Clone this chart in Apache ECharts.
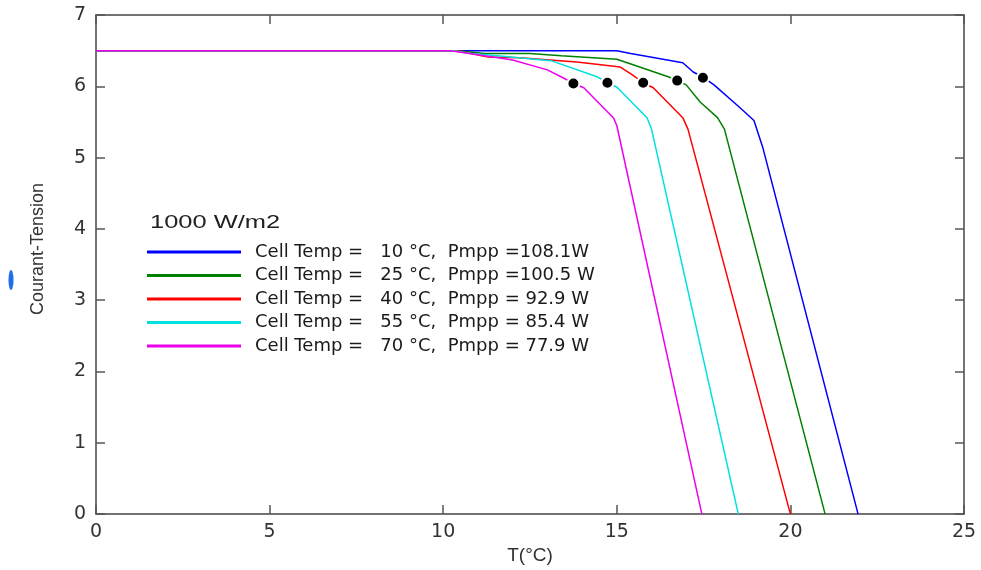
<!DOCTYPE html>
<html>
<head>
<meta charset="utf-8">
<title>Courant-Tension</title>
<script src="https://cdn.jsdelivr.net/npm/echarts@6/dist/echarts.min.js"></script>
<style>
  html, body { margin: 0; padding: 0; background: #fff; }
  #chartBox { width: 981px; height: 570px; }
</style>
</head>
<body>
<div id="chartBox"></div>
<script>
// legend texts
const seriesNames = [
  'Cell Temp =   10 °C,  Pmpp =108.1W',
  'Cell Temp =   25 °C,  Pmpp =100.5 W',
  'Cell Temp =   40 °C,  Pmpp = 92.9 W',
  'Cell Temp =   55 °C,  Pmpp = 85.4 W',
  'Cell Temp =   70 °C,  Pmpp = 77.9 W'
]
const colors = ['#0000ff', '#008000', '#ff0000', '#00e0e0', '#ee00ee']

// curves
const x10 = [0, 10, 15.0, 15.4, 16.9, 17.2, 17.48, 17.8, 18.55, 18.95, 19.2, 21.95]
const y10 = [6.5, 6.5, 6.5, 6.46, 6.33, 6.2, 6.13, 6.02, 5.7, 5.52, 5.15, 0]

const x25 = [0, 10.4, 11.2, 12.5, 13.4, 15.0, 15.3, 16.5, 16.74, 17.0, 17.4, 17.9, 18.1, 21.0]
const y25 = [6.5, 6.5, 6.46, 6.46, 6.43, 6.38, 6.33, 6.13, 6.08, 6.02, 5.78, 5.56, 5.4, 0]

const x40 = [0, 10.4, 11.3, 12.2, 13.85, 15.1, 15.45, 15.76, 16.05, 16.9, 17.05, 20.0]
const y40 = [6.5, 6.5, 6.41, 6.4, 6.34, 6.27, 6.16, 6.05, 5.98, 5.56, 5.4, 0]

const x55 = [0, 10.3, 10.8, 11.55, 13.1, 14.45, 14.73, 15.0, 15.87, 16.0, 18.5]
const y55 = [6.5, 6.5, 6.46, 6.43, 6.36, 6.13, 6.05, 5.99, 5.56, 5.4, 0]

const x70 = [0, 10.2, 11.05, 12.0, 13.0, 13.45, 13.75, 14.05, 14.9, 15.0, 17.45]
const y70 = [6.5, 6.5, 6.44, 6.37, 6.23, 6.12, 6.04, 5.98, 5.56, 5.45, 0]

// maximum power points
const mppX = [17.48, 16.74, 15.76, 14.73, 13.75]
const mppY = [6.12, 6.08, 6.05, 6.05, 6.04]

const xTicks = { min: 0, max: 25, interval: 5 }
const yTicks = { min: 0, max: 7, interval: 1 }

function zipXY(xs, ys) {
  return xs.map((x, i) => [x, ys[i]])
}

const curves = [[x10, y10], [x25, y25], [x40, y40], [x55, y55], [x70, y70]]

const lineSeries = curves.map((c, i) => ({
  name: seriesNames[i],
  type: 'line',
  data: zipXY(c[0], c[1]),
  symbol: 'none',
  z: 2,
  color: colors[i],
  lineStyle: { width: 1.5, color: colors[i] }
}))

const axisLine = { show: true, onZero: false, lineStyle: { color: '#444', width: 1.5 } }
const axisTick = { show: true, inside: true, length: 9, lineStyle: { color: '#555', width: 1.5 } }
const labelStyle = { fontFamily: 'DejaVu Sans', fontSize: 19, color: '#333' }

var myChart = echarts.init(document.getElementById('chartBox'))
myChart.setOption({
  backgroundColor: '#fff',
  animation: false,
  grid: { left: 96, right: 17, top: 15, bottom: 55 },
  xAxis: [
    {
      type: 'value', min: xTicks.min, max: xTicks.max, interval: xTicks.interval,
      name: 'T(°C)', nameLocation: 'middle', nameGap: 26,
      nameTextStyle: { fontFamily: 'Liberation Sans', fontSize: 19, color: '#333' },
      axisLine: axisLine, axisTick: axisTick, splitLine: { show: false },
      axisLabel: Object.assign({ margin: 8 }, labelStyle)
    },
    {
      type: 'value', position: 'top', min: xTicks.min, max: xTicks.max, interval: xTicks.interval,
      axisLine: axisLine, axisTick: axisTick, splitLine: { show: false },
      axisLabel: { show: false }
    }
  ],
  yAxis: [
    {
      type: 'value', min: yTicks.min, max: yTicks.max, interval: yTicks.interval,
      axisLine: axisLine, axisTick: axisTick, splitLine: { show: false },
      axisLabel: Object.assign({ margin: 10 }, labelStyle)
    },
    {
      type: 'value', position: 'right', min: yTicks.min, max: yTicks.max, interval: yTicks.interval,
      axisLine: axisLine, axisTick: axisTick, splitLine: { show: false },
      axisLabel: { show: false }
    }
  ],
  legend: {
    data: seriesNames,
    orient: 'vertical',
    left: 147,
    top: 243,
    icon: 'rect',
    itemWidth: 94,
    itemHeight: 3,
    itemGap: 5.5,
    padding: 0,
    selectedMode: false,
    textStyle: {
      fontFamily: 'DejaVu Sans', fontSize: 18, lineHeight: 18, color: '#1a1a1a',
      padding: [0, 0, 0, 9]
    }
  },
  graphic: [
    {
      type: 'text', left: 150, top: 213, scaleX: 1.34,
      style: { text: '1000 W/m2', fontFamily: 'Liberation Sans', fontSize: 19, fill: '#222' }
    },
    {
      type: 'text', x: 38, y: 249, rotation: Math.PI / 2,
      style: {
        text: 'Courant-Tension', fontFamily: 'Liberation Sans', fontSize: 18, fill: '#333',
        align: 'center', verticalAlign: 'middle'
      }
    },
    {
      type: 'ellipse', shape: { cx: 11, cy: 280, rx: 2.5, ry: 10 },
      style: { fill: '#1e6fe8' }
    }
  ],
  series: lineSeries.concat([
    {
      name: 'mpp',
      type: 'scatter',
      data: zipXY(mppX, mppY),
      symbol: 'circle',
      symbolSize: 12,
      z: 5,
      itemStyle: { color: '#000', borderColor: '#fff', borderWidth: 2, opacity: 1 }
    }
  ])
})
</script>
</body>
</html>
